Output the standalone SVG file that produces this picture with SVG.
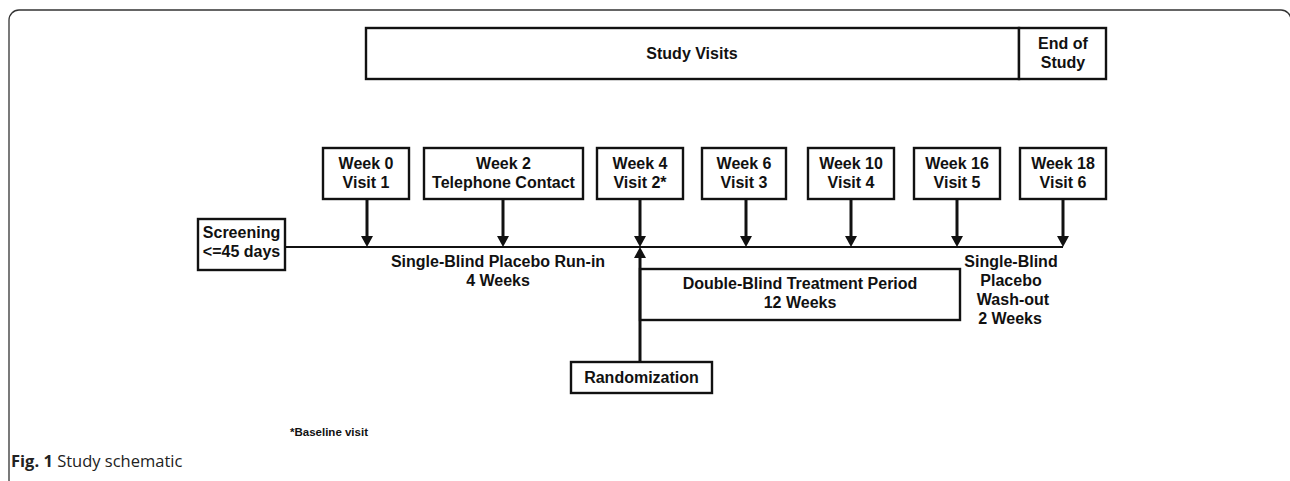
<svg xmlns="http://www.w3.org/2000/svg" width="1290" height="481" viewBox="0 0 1290 481">
<style>
.box{fill:#fff;stroke:#111;stroke-width:2.4}
.t{font-family:"Liberation Sans",Arial,sans-serif;font-weight:bold;font-size:16px;fill:#111;text-anchor:middle}
.line{stroke:#111;stroke-width:2;fill:none}
.shaft{stroke:#111;stroke-width:3;fill:none}
.head{fill:#111}
</style>
<rect x="9" y="10" width="1282" height="480" rx="10" fill="#fff" stroke="#333" stroke-width="1.3"/>
<g id="header">
<rect class="box" x="366" y="28" width="653" height="51"/>
<text class="t" x="692" y="59">Study Visits</text>
</g>
<g id="end-of-study">
<rect class="box" x="1019" y="28" width="87" height="51"/>
<text class="t" x="1063" y="49">End of</text>
<text class="t" x="1063" y="68">Study</text>
</g>
<g id="screening">
<rect class="box" x="198" y="219" width="87" height="51"/>
<text class="t" x="241.5" y="238">Screening</text>
<text class="t" x="241.5" y="257">&lt;=45 days</text>
</g>
<g id="week0">
<rect class="box" x="323" y="148" width="86" height="51"/>
<text class="t" x="366" y="169">Week 0</text>
<text class="t" x="366" y="188">Visit 1</text>
</g>
<g id="week2">
<rect class="box" x="424" y="148" width="159" height="51"/>
<text class="t" x="503.5" y="169">Week 2</text>
<text class="t" x="503.5" y="188">Telephone Contact</text>
</g>
<g id="week4">
<rect class="box" x="597" y="148" width="86" height="51"/>
<text class="t" x="640" y="169">Week 4</text>
<text class="t" x="640" y="188">Visit 2*</text>
</g>
<g id="week6">
<rect class="box" x="702" y="148" width="84" height="51"/>
<text class="t" x="744" y="169">Week 6</text>
<text class="t" x="744" y="188">Visit 3</text>
</g>
<g id="week10">
<rect class="box" x="808" y="148" width="86" height="51"/>
<text class="t" x="851" y="169">Week 10</text>
<text class="t" x="851" y="188">Visit 4</text>
</g>
<g id="week16">
<rect class="box" x="914" y="148" width="86" height="51"/>
<text class="t" x="957" y="169">Week 16</text>
<text class="t" x="957" y="188">Visit 5</text>
</g>
<g id="week18">
<rect class="box" x="1020" y="148" width="86" height="51"/>
<text class="t" x="1063" y="169">Week 18</text>
<text class="t" x="1063" y="188">Visit 6</text>
</g>
<g id="double-blind">
<rect class="box" x="640" y="269" width="320" height="51"/>
<text class="t" x="800" y="289">Double-Blind Treatment Period</text>
<text class="t" x="800" y="308">12 Weeks</text>
</g>
<g id="randomization">
<rect class="box" x="571" y="362" width="141" height="31"/>
<text class="t" x="641.5" y="383">Randomization</text>
</g>
<g id="run-in-label">
<text class="t" x="498" y="267">Single-Blind Placebo Run-in</text>
<text class="t" x="498" y="286">4 Weeks</text>
</g>
<g id="washout-label">
<text class="t" x="1011" y="267">Single-Blind</text>
<text class="t" x="1011" y="286">Placebo</text>
<text class="t" x="1013" y="305">Wash-out</text>
<text class="t" x="1010" y="324">2 Weeks</text>
</g>
<g id="connectors">
<line class="line" x1="285" y1="247" x2="1063" y2="247"/>
<line class="shaft" x1="367" y1="199" x2="367" y2="238"/>
<polygon class="head" points="361,236 373,236 367,247"/>
<line class="shaft" x1="503" y1="199" x2="503" y2="238"/>
<polygon class="head" points="497,236 509,236 503,247"/>
<line class="shaft" x1="640" y1="199" x2="640" y2="238"/>
<polygon class="head" points="634,236 646,236 640,247"/>
<line class="shaft" x1="746" y1="199" x2="746" y2="238"/>
<polygon class="head" points="740,236 752,236 746,247"/>
<line class="shaft" x1="851" y1="199" x2="851" y2="238"/>
<polygon class="head" points="845,236 857,236 851,247"/>
<line class="shaft" x1="957" y1="199" x2="957" y2="238"/>
<polygon class="head" points="951,236 963,236 957,247"/>
<line class="shaft" x1="1063" y1="199" x2="1063" y2="238"/>
<polygon class="head" points="1057,236 1069,236 1063,247"/>
<line class="shaft" x1="640" y1="362" x2="640" y2="256"/>
<polygon class="head" points="634,258 646,258 640,247"/>
</g>
<g id="footnote">
<text x="290" y="436" font-family="'Liberation Sans',Arial,sans-serif" font-weight="bold" font-size="11.5" fill="#111">*Baseline visit</text>
</g>
<g id="caption">
<text x="11" y="467" font-family="'Open Sans','Noto Sans',sans-serif" font-size="16.5" fill="#222"><tspan font-weight="bold">Fig. 1</tspan> Study schematic</text>
</g>
</svg>
